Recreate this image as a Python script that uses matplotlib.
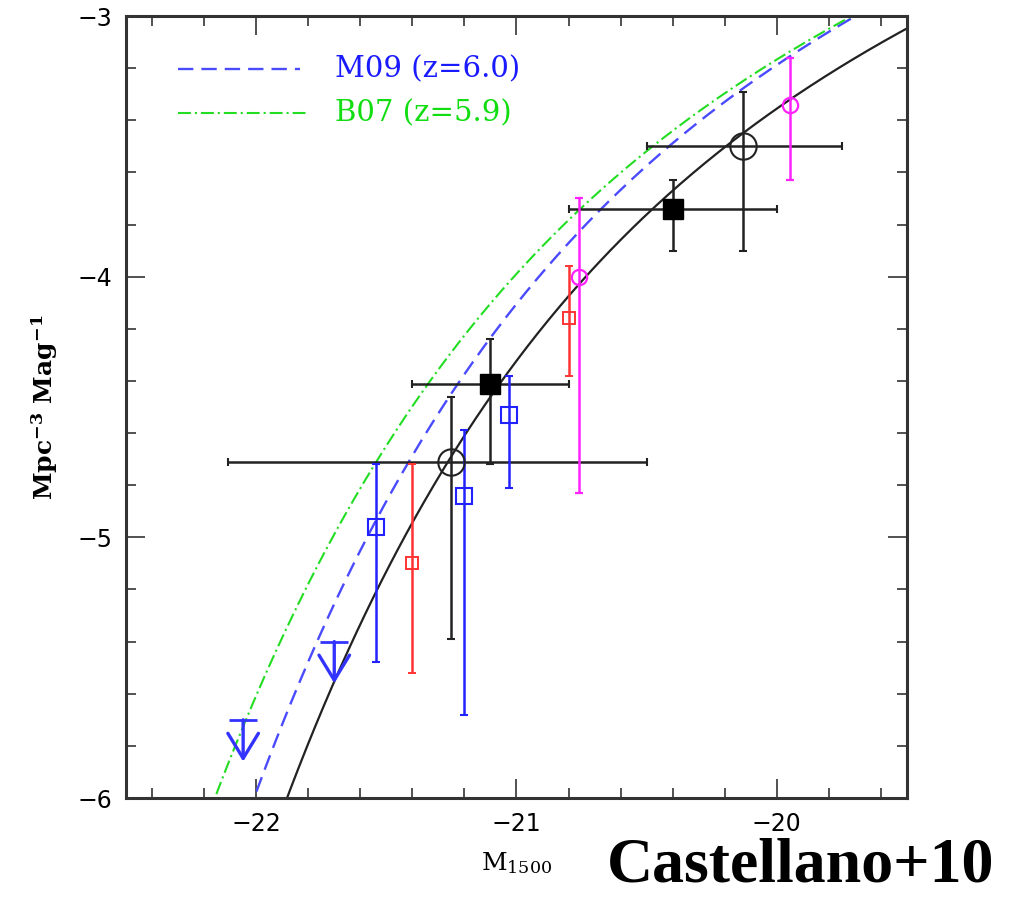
import numpy as np
import matplotlib
matplotlib.use("Agg")
import matplotlib.pyplot as plt
from matplotlib.ticker import MultipleLocator

plt.rcParams["mathtext.fontset"] = "dejavuserif"

# Castellano+10 points: large open circles
circ_x = [-21.25, -20.13]
circ_xlo = [-22.11, -20.50]
circ_xhi = [-20.50, -19.75]
circ_y = [-4.71, -3.50]
circ_ylo = [-5.39, -3.90]
circ_yhi = [-4.46, -3.29]

# Castellano+10 points: filled squares
sq_x = [-21.10, -20.40]
sq_xlo = [-21.40, -20.80]
sq_xhi = [-20.80, -20.00]
sq_y = [-4.41, -3.74]
sq_ylo = [-4.72, -3.90]
sq_yhi = [-4.24, -3.63]

# other surveys
mag_x = [-20.76, -19.95]
mag_y = [-4.00, -3.34]
mag_ylo = [-4.83, -3.63]
mag_yhi = [-3.70, -3.16]

red_x = [-21.40, -20.80]
red_y = [-5.10, -4.16]
red_ylo = [-5.52, -4.38]
red_yhi = [-4.72, -3.96]

blue_x = [-21.54, -21.20, -21.03]
blue_y = [-4.96, -4.84, -4.53]
blue_ylo = [-5.48, -5.68, -4.81]
blue_yhi = [-4.72, -4.59, -4.38]

# blue upper limits
lim_x = [-22.05, -21.70]
lim_y = [-5.70, -5.40]

# Schechter parameters: (M*, phi*, alpha)
fit_c10 = (-19.95, 1.41e-3, -1.70)
fit_m09 = (-20.04, 1.80e-3, -1.71)
fit_b07 = (-20.24, 1.40e-3, -1.74)


def schechter_log(M, mstar, phistar, alpha):
    u = 10 ** (0.4 * (mstar - M))
    phi = 0.4 * np.log(10) * phistar * u ** (alpha + 1) * np.exp(-u)
    return np.log10(phi)


def asym(vals, lo, hi):
    v, lo, hi = map(np.asarray, (vals, lo, hi))
    return [v - lo, hi - v]


fig = plt.figure(figsize=(10.17, 9.01), dpi=100)
ax = fig.add_axes([0.1239, 0.1143, 0.7679, 0.8679])

M = np.linspace(-22.6, -19.4, 400)
ax.plot(M, schechter_log(M, *fit_c10), color="#222222", lw=1.6, zorder=2)
ax.plot(M, schechter_log(M, *fit_m09), color="#4a4aff", lw=1.7,
        dashes=(6.5, 3.4), zorder=2)
ax.plot(M, schechter_log(M, *fit_b07), color="#22dd22", lw=1.5,
        dashes=(6.2, 1.9, 1.0, 1.9), zorder=2)

ebk = dict(ecolor="#222222", elinewidth=1.8, capsize=3, capthick=1.5, zorder=3)
ax.errorbar(circ_x, circ_y, xerr=asym(circ_x, circ_xlo, circ_xhi),
            yerr=asym(circ_y, circ_ylo, circ_yhi), fmt="o", ms=19,
            mfc="none", mec="#222222", mew=1.5, **ebk)
ax.errorbar(sq_x, sq_y, xerr=asym(sq_x, sq_xlo, sq_xhi),
            yerr=asym(sq_y, sq_ylo, sq_yhi), fmt="s", ms=15,
            mfc="black", mec="black", **ebk)

ax.errorbar(mag_x, mag_y, yerr=asym(mag_y, mag_ylo, mag_yhi), fmt="o",
            ms=11, mfc="none", mec="#ff22ff", mew=1.6, ecolor="#ff22ff",
            elinewidth=1.8, capsize=3, zorder=3)
ax.errorbar(red_x, red_y, yerr=asym(red_y, red_ylo, red_yhi), fmt="s",
            ms=8, mfc="none", mec="#ff3333", mew=1.4, ecolor="#ff3333",
            elinewidth=1.8, capsize=3, zorder=3)
ax.errorbar(blue_x, blue_y, yerr=asym(blue_y, blue_ylo, blue_yhi), fmt="s",
            ms=11.5, mfc="none", mec="#2222ff", mew=1.5, ecolor="#2222ff",
            elinewidth=1.8, capsize=3, zorder=3)

# upper limits: cap + downward arrow
ax.plot(lim_x, lim_y, ls="none", marker="_", ms=20, mew=2.0,
        color="#3333ff", zorder=3)
for lx, ly in zip(lim_x, lim_y):
    ax.annotate("", xy=(lx, ly - 0.16), xytext=(lx, ly),
                arrowprops=dict(arrowstyle="->,head_length=0.9,head_width=0.55",
                                color="#3333ff", lw=2.4, mutation_scale=20,
                                shrinkA=0, shrinkB=0), zorder=3)

ax.set_xlim(-22.5, -19.5)
ax.set_ylim(-6, -3)
ax.xaxis.set_major_locator(MultipleLocator(1))
ax.xaxis.set_minor_locator(MultipleLocator(0.2))
ax.yaxis.set_major_locator(MultipleLocator(1))
ax.yaxis.set_minor_locator(MultipleLocator(0.2))
ax.tick_params(which="both", direction="in", top=True, right=True,
               color="#333333", width=1.2)
ax.tick_params(which="major", length=14, labelsize=17, pad=10)
ax.tick_params(which="minor", length=7)
for s in ax.spines.values():
    s.set_linewidth(2.2)
    s.set_color("#333333")

ax.set_xlabel("M$_{1500}$", fontsize=18, labelpad=10, family="DejaVu Serif")
ax.set_ylabel(r"Mpc$^{\mathbf{-3}}$ Mag$^{\mathbf{-1}}$", fontsize=18,
              labelpad=12, family="DejaVu Serif", fontweight="bold")

# key
ax.plot([0.067, 0.223], [0.932, 0.932], transform=ax.transAxes,
        color="#4a4aff", lw=1.7, dashes=(6.5, 3.4))
ax.text(0.268, 0.932, "M09 (z=6.0)", transform=ax.transAxes, va="center",
        fontsize=21, family="DejaVu Serif", color="#1a1aff")
ax.plot([0.067, 0.233], [0.876, 0.876], transform=ax.transAxes,
        color="#22dd22", lw=1.5, dashes=(6.2, 1.9, 1.0, 1.9))
ax.text(0.268, 0.876, "B07 (z=5.9)", transform=ax.transAxes, va="center",
        fontsize=21, family="DejaVu Serif", color="#11dd11")

fig.text(0.978, 0.006, "Castellano+10", ha="right", va="bottom",
         family="Liberation Serif", fontweight="bold", fontsize=46)

fig.savefig("out.png", dpi=100)
